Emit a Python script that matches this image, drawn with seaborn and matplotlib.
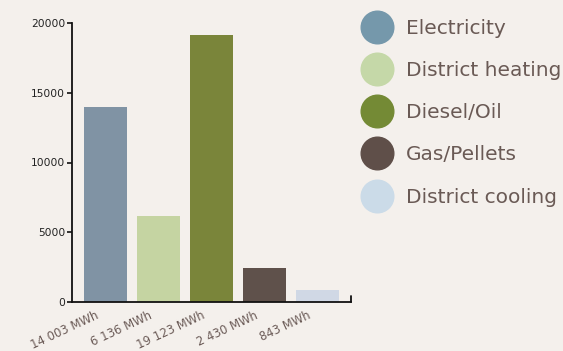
import matplotlib
matplotlib.use("Agg")
import matplotlib.pyplot as plt
from matplotlib.lines import Line2D
import seaborn as sns
import pandas as pd

categories = ["Electricity", "District heating", "Diesel/Oil", "Gas/Pellets", "District cooling"]
values = [14003, 6136, 19123, 2430, 843]
tick_labels = ["14 003 MWh", "6 136 MWh", "19 123 MWh", "2 430 MWh", "843 MWh"]
bar_colors = ["#8093a4", "#c5d4a2", "#7a853a", "#5f514b", "#d0d8e5"]
legend_colors = ["#7598ab", "#c5d8a8", "#748a35", "#5f4f49", "#cbdbe8"]

bg = "#f4f0ec"
sns.set_style("white")
plt.rcParams["font.family"] = ["DejaVu Sans"]

df = pd.DataFrame({"cat": categories, "val": values})

fig = plt.figure(figsize=(5.63, 3.51), dpi=100, facecolor=bg)
ax = fig.add_axes([72/563, 1-302/351, (351-72)/563, (302-23)/351])
ax.set_facecolor(bg)
sns.barplot(data=df, x="cat", y="val", hue="cat", palette=bar_colors,
            order=categories, hue_order=categories, width=0.81,
            legend=False, ax=ax, saturation=1, linewidth=0)
ax.set_xlim(-0.63, 4.63)
ax.set_ylim(0, 20000)
ax.set_yticks([0, 5000, 10000, 15000, 20000])
ax.set_yticklabels(["0", "5000", "10000", "15000", "20000"], fontsize=7.7, color="#222222")
ax.set_xticks(range(len(categories)))
ax.set_xticklabels([])
for i, lab in enumerate(tick_labels):
    ax.annotate(lab, xy=(i, 0), xycoords=("data", "axes fraction"),
                xytext=(-7.2, -5.0), textcoords="offset points",
                rotation=25, ha="right", va="top", rotation_mode="anchor",
                fontsize=8.4, color="#6b5b57", annotation_clip=False)
ax.tick_params(axis="x", length=0)
ax.tick_params(axis="y", length=3.8, width=1.2, color="#111111", direction="out", left=True, pad=1.2)
ax.set_xlabel("")
ax.set_ylabel("")
for s in ["top", "right"]:
    ax.spines[s].set_visible(False)
for s in ["left", "bottom"]:
    ax.spines[s].set_color("#111111")
    ax.spines[s].set_linewidth(1.3)
ax.axvline(4.63, ymin=0, ymax=0.02, color="#111111", lw=1.3, clip_on=False)

handles = [Line2D([0], [0], marker="o", linestyle="", markersize=23.5,
                  markerfacecolor=c, markeredgecolor=c) for c in legend_colors]
leg = fig.legend(handles, categories, loc="upper left", bbox_to_anchor=(357.5/563, 1-19/351),
                 frameon=False, fontsize=14.5, labelspacing=1.15, handletextpad=0.45,
                 borderaxespad=0, borderpad=0, handlelength=1.95)
for t in leg.get_texts():
    t.set_color("#6a5a55")

fig.savefig("out.png", dpi=100, facecolor=bg)
